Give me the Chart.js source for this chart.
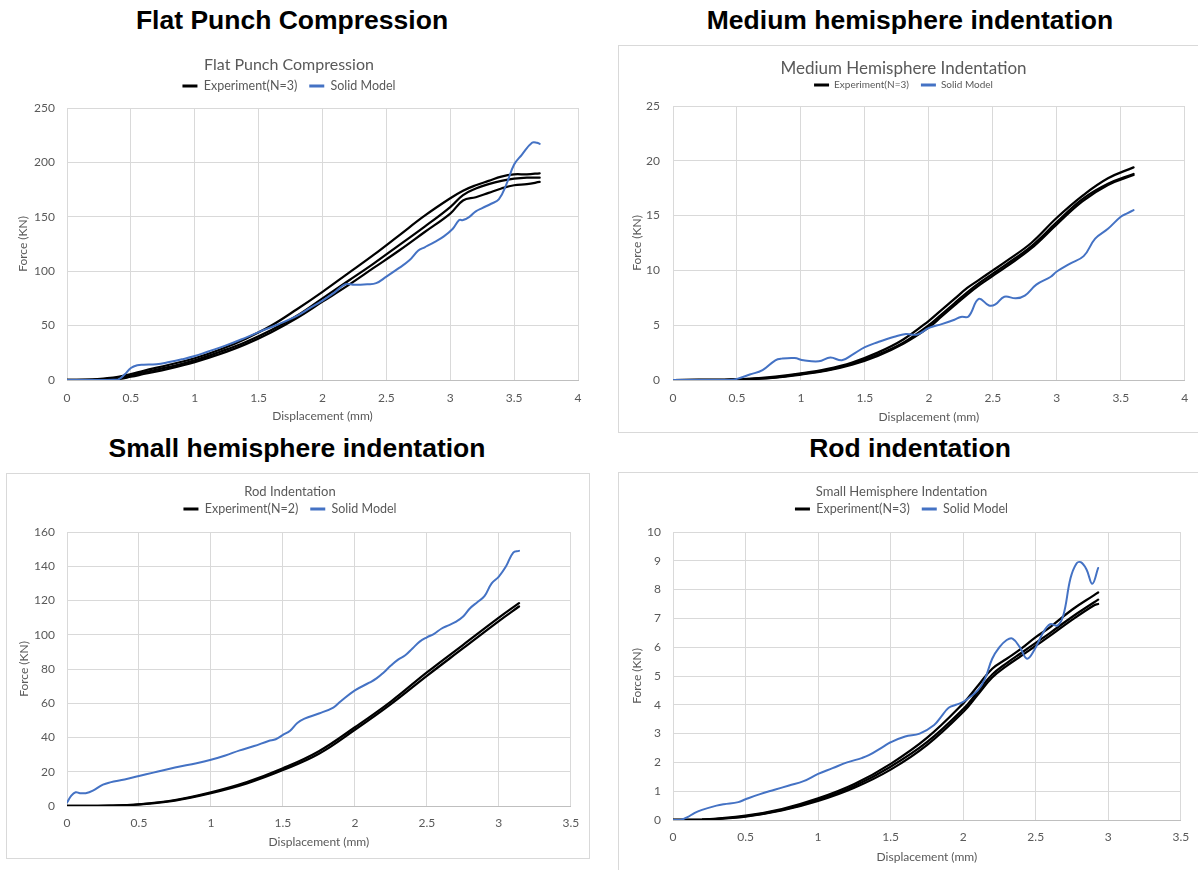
<!DOCTYPE html>
<html>
<head>
<meta charset="utf-8">
<script src="https://cdn.jsdelivr.net/npm/chart.js@4.4.1/dist/chart.umd.min.js"></script>
<style>
  body { margin: 0; background: #fff; width: 1198px; height: 870px; overflow: hidden; position: relative; }
  .heading { position: absolute; width: 600px; text-align: center; font-family: 'Liberation Sans', Arial, sans-serif;
             font-weight: bold; font-size: 26.5px; line-height: 30px; color: #000; }
  .panel { position: absolute; box-sizing: border-box; background: #fff; }
  .framed { border: 1px solid #d9d9d9; }
  .panel > div { position: relative; }
</style>
</head>
<body>
<div class="heading" style="left:-8px; top:5px">Flat Punch Compression</div>
<div class="heading" style="left:610px; top:5px">Medium hemisphere indentation</div>
<div class="heading" style="left:-3px; top:433px">Small hemisphere indentation</div>
<div class="heading" style="left:610px; top:433px">Rod indentation</div>

<div class="panel" style="left:0; top:44px; width:598px; height:390px">
  <div style="width:598px; height:390px"><canvas id="flat"></canvas></div>
</div>
<div class="panel framed" style="left:618px; top:45px; width:582px; height:388px">
  <div style="width:580px; height:386px"><canvas id="medium"></canvas></div>
</div>
<div class="panel framed" style="left:6px; top:473px; width:584px; height:386px">
  <div style="width:582px; height:384px"><canvas id="rod"></canvas></div>
</div>
<div class="panel framed" style="left:618px; top:472px; width:582px; height:400px">
  <div style="width:580px; height:397px"><canvas id="small"></canvas></div>
</div>

<script>
Chart.defaults.font.family = 'Lato';
Chart.defaults.color = '#595959';

// Flat punch compression
const flatExpX = [0, 0.2, 0.3, 0.4, 0.5, 0.6, 0.8, 1.0, 1.2, 1.4, 1.6, 1.8, 2.0, 2.2, 2.4, 2.6, 2.8, 3.0, 3.1, 3.2, 3.3, 3.4, 3.5, 3.6, 3.7];
const flatExp1 = [0, 0.5, 1.5, 3, 5.5, 8.5, 14, 20, 28, 38, 50, 65, 81, 98, 115, 133, 151, 167, 174, 179, 183, 187, 189, 189, 190];
const flatExp2 = [0, 0.2, 0.5, 1.5, 4, 7, 12, 18, 26, 35, 46, 59, 75, 91, 107, 124, 141, 159, 170, 176, 180, 183, 185, 186, 186];
const flatExp3 = [0, 0, 0.2, 0.8, 3, 5.5, 10.5, 16.5, 24, 33, 44, 57, 72, 87, 103, 119, 136, 153, 165, 168, 172, 176, 179, 180, 182];
const flatSolidX = [0, 0.3, 0.4, 0.45, 0.5, 0.55, 0.6, 0.7, 0.8, 0.9, 1.0, 1.1, 1.25, 1.4, 1.5, 1.65, 1.8, 1.9, 2.0, 2.1,
                    2.18, 2.25, 2.35, 2.42, 2.5, 2.6, 2.68, 2.75, 2.8, 2.88, 2.95, 3.02, 3.07, 3.1, 3.15, 3.2, 3.25, 3.32, 3.38, 3.44,
                    3.5, 3.56, 3.64, 3.68, 3.7];
const flatSolidY = [0, 0, 0.5, 5, 11, 13.5, 14, 14.5, 16.5, 19, 22, 26, 32, 39, 44, 51, 59, 66, 73, 81,
                    88, 87.5, 88, 89, 95, 103, 110, 119, 122, 127, 132, 139, 147, 147, 150, 155, 158, 162, 166, 180,
                    198, 207, 218, 218, 217];

// Medium hemisphere indentation
const medExpX = [0, 0.4, 0.6, 0.8, 1.0, 1.2, 1.4, 1.6, 1.8, 2.0, 2.1, 2.2, 2.3, 2.4, 2.5, 2.6, 2.8, 3.0, 3.2, 3.4, 3.6];
const medExp1 = [0, 0.02, 0.1, 0.3, 0.6, 1.0, 1.6, 2.5, 3.7, 5.4, 6.4, 7.4, 8.4, 9.2, 10.0, 10.8, 12.5, 14.8, 16.8, 18.4, 19.4];
const medExp2 = [0, 0.02, 0.1, 0.25, 0.55, 0.9, 1.5, 2.3, 3.4, 5.0, 6.0, 7.0, 8.0, 8.9, 9.7, 10.5, 12.2, 14.4, 16.5, 17.9, 18.8];
const medExp3 = [0, 0.02, 0.08, 0.22, 0.5, 0.85, 1.4, 2.2, 3.3, 4.8, 5.8, 6.8, 7.8, 8.7, 9.5, 10.3, 12.0, 14.2, 16.3, 17.8, 18.7];
const medSolidX = [0, 0.45, 0.5, 0.6, 0.7, 0.8, 0.85, 0.95, 1.02, 1.14, 1.23, 1.32, 1.4, 1.5, 1.6, 1.73, 1.82, 1.91, 2.0, 2.1,
                   2.2, 2.25, 2.31, 2.39, 2.47, 2.52, 2.59, 2.68, 2.75, 2.84, 2.95, 3.0, 3.1, 3.21, 3.3, 3.4, 3.5, 3.55, 3.6];
const medSolidY = [0, 0, 0.1, 0.5, 0.9, 1.8, 1.95, 2.0, 1.8, 1.7, 2.05, 1.8, 2.3, 3.0, 3.45, 3.95, 4.2, 4.15, 4.75, 5.1,
                   5.5, 5.75, 5.8, 7.4, 6.8, 6.9, 7.6, 7.45, 7.7, 8.7, 9.4, 9.9, 10.6, 11.3, 12.9, 13.8, 14.9, 15.2, 15.5];

// Rod indentation
const rodExpX = [0, 0.3, 0.5, 0.75, 1.0, 1.25, 1.5, 1.75, 2.0, 2.25, 2.5, 2.75, 3.0, 3.14];
const rodExp1 = [0, 0.2, 1, 3.5, 8, 14, 22, 32, 46, 61, 78, 94, 110, 118.5];
const rodExp2 = [0, 0.2, 0.9, 3.2, 7.5, 13.2, 21, 30.5, 44.5, 59.5, 76, 92, 108, 116.5];
const rodSolidX = [0, 0.03, 0.06, 0.09, 0.13, 0.18, 0.25, 0.3, 0.4, 0.5, 0.6, 0.75, 0.9, 1.0, 1.1, 1.2, 1.3, 1.4, 1.45, 1.5,
                   1.55, 1.6, 1.65, 1.75, 1.85, 1.9, 2.0, 2.1, 2.15, 2.2, 2.25, 2.3, 2.35, 2.4, 2.45, 2.5, 2.55, 2.6, 2.65, 2.7,
                   2.75, 2.8, 2.85, 2.9, 2.95, 3.0, 3.05, 3.1, 3.14];
const rodSolidY = [2, 6, 8, 7.5, 7.5, 9, 12.5, 13.8, 15.5, 17.5, 19.5, 22.5, 25, 27, 29.5, 32.5, 35, 38, 39, 41.5,
                   44, 48.5, 51, 54, 57.5, 61, 67.5, 72, 74.5, 78, 82, 85.5, 88, 92, 96, 98.5, 100.5, 103.5, 105.5, 107.5,
                   110.5, 115.5, 119, 122.5, 130, 134, 140, 148, 149];

// Small hemisphere indentation
const smallExpX = [0, 0.2, 0.5, 0.75, 1.0, 1.25, 1.5, 1.75, 2.0, 2.1, 2.2, 2.3, 2.4, 2.5, 2.6, 2.75, 2.9, 2.93];
const smallExp1 = [0, 0.01, 0.15, 0.38, 0.75, 1.25, 1.95, 2.85, 4.05, 4.65, 5.25, 5.6, 5.95, 6.35, 6.7, 7.3, 7.8, 7.9];
const smallExp2 = [0, 0.01, 0.13, 0.35, 0.7, 1.18, 1.85, 2.7, 3.85, 4.45, 5.05, 5.45, 5.8, 6.15, 6.5, 7.05, 7.55, 7.65];
const smallExp3 = [0, 0.01, 0.12, 0.33, 0.66, 1.12, 1.75, 2.6, 3.75, 4.35, 4.95, 5.35, 5.7, 6.05, 6.4, 6.95, 7.45, 7.5];
const smallSolidX = [0, 0.05, 0.1, 0.15, 0.2, 0.3, 0.35, 0.45, 0.5, 0.6, 0.7, 0.8, 0.9, 1.0, 1.1, 1.2, 1.3, 1.35, 1.45, 1.5,
                     1.6, 1.7, 1.8, 1.85, 1.9, 1.95, 2.0, 2.1, 2.15, 2.2, 2.25, 2.3, 2.34, 2.39, 2.44, 2.49, 2.55, 2.6, 2.65, 2.69,
                     2.74, 2.78, 2.81, 2.85, 2.89, 2.93];
const smallSolidY = [0, 0, 0.1, 0.25, 0.35, 0.5, 0.55, 0.62, 0.72, 0.9, 1.05, 1.2, 1.35, 1.6, 1.8, 2.0, 2.15, 2.25, 2.55, 2.7,
                     2.9, 3.0, 3.3, 3.6, 3.9, 4.0, 4.1, 4.5, 4.9, 5.6, 6.0, 6.25, 6.3, 6.0, 5.6, 5.9, 6.5, 6.8, 6.75, 7.1,
                     8.4, 8.9, 8.95, 8.7, 8.2, 8.75];

// axis ranges [min, max, step]
const xRange4 = [0, 4, 0.5];
const xRange35 = [0, 3.5, 0.5];
const flatYRange = [0, 250, 50];
const medYRange = [0, 25, 5];
const rodYRange = [0, 160, 20];
const smallYRange = [0, 10, 1];

const BLACK = '#000000';
const BLUE = '#4472C4';

const pts = (xs, ys) => xs.map((x, i) => ({ x: x, y: ys[i] }));

function expSet(label, xs, ys) {
  return { label: label, data: pts(xs, ys), borderColor: BLACK, borderWidth: 2.25, order: 1 };
}
function solidSet(xs, ys) {
  return { label: 'Solid Model', data: pts(xs, ys), borderColor: BLUE, borderWidth: 2, order: 0 };
}

// s: canvas box in page coords + wanted positions of the parts (page coords)
function makeChart(id, s, datasets) {
  const ox = s.box[0], oy = s.box[1], w = s.box[2], h = s.box[3];
  const pl = s.plot[0] - ox, pt = s.plot[1] - oy, pr = s.plot[2] - ox, pb = s.plot[3] - oy;
  const p = 12;
  const tlh = s.titleSize * 1.2;
  const titleTop = s.titleY - oy - tlh / 2;
  const legendTop = s.legendY - oy - p - s.legendSize / 2;
  const titleBottom = legendTop - (titleTop + tlh);
  const legendEnd = legendTop + s.legendSize + p + 10;
  const gap = Math.max(pt - legendEnd, 1);

  return new Chart(document.getElementById(id), {
    type: 'line',
    data: { datasets: datasets },
    options: {
      responsive: true,
      maintainAspectRatio: false,
      animation: false,
      layout: { padding: { left: 0, top: 0, bottom: 0, right: w - pr } },
      elements: {
        point: { radius: 0 },
        line: { tension: 0.4, fill: false, borderCapStyle: 'round', borderJoinStyle: 'round' }
      },
      scales: {
        x: {
          type: 'linear',
          min: s.xr[0], max: s.xr[1],
          ticks: { stepSize: s.xr[2], padding: s.xLabelY - s.plot[3] - 7.2, font: { size: 12 }, color: '#595959',
                   callback: v => String(Math.round(v * 10) / 10) },
          grid: { color: '#d9d9d9', drawTicks: false },
          border: { display: true, color: '#bfbfbf' },
          title: { display: true, text: 'Displacement (mm)', color: '#595959', font: { size: 12 },
                   padding: { top: 0, bottom: (oy + h) - s.xTitleY - 7.2 } },
          afterFit: sc => { sc.height = h - pb; }
        },
        y: {
          min: s.yr[0], max: s.yr[1],
          ticks: { stepSize: s.yr[2], padding: s.plot[0] - s.yLabelR, font: { size: 12 }, color: '#595959' },
          grid: { color: '#d9d9d9', drawTicks: false },
          border: { display: false },
          title: { display: true, text: 'Force (KN)', color: '#595959', font: { size: 12 },
                   padding: { top: s.yTitleX - ox - 7.2, bottom: 0 } },
          afterFit: sc => { sc.width = pl; }
        }
      },
      plugins: {
        tooltip: { enabled: false },
        title: {
          display: true, text: s.title, color: '#595959',
          font: { size: s.titleSize, weight: 'normal' },
          padding: { top: titleTop, bottom: titleBottom }
        },
        subtitle: {
          display: true, text: '', weight: 500,
          font: { size: 1, lineHeight: 1 },
          padding: { top: gap - 1, bottom: 0 }
        },
        legend: {
          display: true,
          labels: {
            color: '#595959',
            font: { size: s.legendSize },
            padding: p,
            usePointStyle: true,
            pointStyle: 'line',
            pointStyleWidth: 15,
            generateLabels: chart => Chart.defaults.plugins.legend.labels.generateLabels(chart)
              .filter(it => it.text)
              .sort((a, b) => a.datasetIndex - b.datasetIndex)
              .map(it => Object.assign(it, { lineWidth: 3 }))
          }
        }
      }
    }
  });
}

makeChart('flat', {
  box: [0, 44, 598, 390], plot: [67, 108, 578, 380],
  title: 'Flat Punch Compression', titleSize: 16, titleY: 65,
  legendSize: 12.5, legendY: 86,
  xLabelY: 398, xTitleY: 416, yLabelR: 55, yTitleX: 23,
  xr: xRange4, yr: flatYRange
}, [
  expSet('Experiment(N=3)', flatExpX, flatExp1),
  expSet('', flatExpX, flatExp2),
  expSet('', flatExpX, flatExp3),
  solidSet(flatSolidX, flatSolidY)
]);

makeChart('medium', {
  box: [619, 46, 580, 386], plot: [673, 106, 1188, 380],
  title: 'Medium Hemisphere Indentation', titleSize: 17, titleY: 69,
  legendSize: 10, legendY: 85,
  xLabelY: 398, xTitleY: 417, yLabelR: 660, yTitleX: 637,
  xr: xRange4, yr: medYRange
}, [
  expSet('Experiment(N=3)', medExpX, medExp1),
  expSet('', medExpX, medExp2),
  expSet('', medExpX, medExp3),
  solidSet(medSolidX, medSolidY)
]);

makeChart('rod', {
  box: [7, 474, 582, 384], plot: [67, 532, 573, 806],
  title: 'Rod Indentation', titleSize: 13, titleY: 492,
  legendSize: 12.5, legendY: 509,
  xLabelY: 823, xTitleY: 842, yLabelR: 55, yTitleX: 24,
  xr: xRange35, yr: rodYRange
}, [
  expSet('Experiment(N=2)', rodExpX, rodExp1),
  expSet('', rodExpX, rodExp2),
  solidSet(rodSolidX, rodSolidY)
]);

makeChart('small', {
  box: [619, 473, 580, 397], plot: [673, 532, 1184, 820],
  title: 'Small Hemisphere Indentation', titleSize: 13, titleY: 492,
  legendSize: 12.5, legendY: 509,
  xLabelY: 837, xTitleY: 857, yLabelR: 661, yTitleX: 637,
  xr: xRange35, yr: smallYRange
}, [
  expSet('Experiment(N=3)', smallExpX, smallExp1),
  expSet('', smallExpX, smallExp2),
  expSet('', smallExpX, smallExp3),
  solidSet(smallSolidX, smallSolidY)
]);
</script>
</body>
</html>
